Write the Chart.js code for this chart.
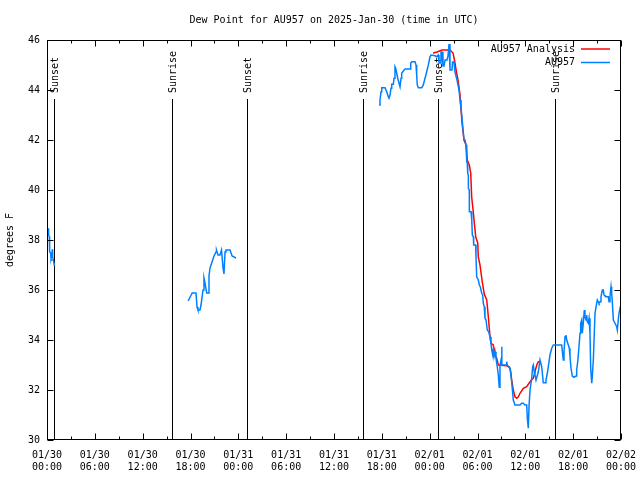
<!DOCTYPE html>
<html>
<head>
<meta charset="utf-8">
<script src="https://cdn.jsdelivr.net/npm/chart.js@4/dist/chart.umd.min.js"></script>
<style>
  html, body { margin: 0; padding: 0; background: #fff; }
  canvas { display: block; }
</style>
</head>
<body>
<canvas id="c" width="640" height="480"></canvas>
<script>
// ---------------- DATA ----------------
const chartTitle = "Dew Point for AU957 on 2025-Jan-30 (time in UTC)";
const yAxisTitle = "degrees F";
const seriesNames = ["AU957 Analysis", "AU957"];

// x values are hours since 01/30 00:00 UTC
const xTickLabels = [
  ["01/30", "00:00"], ["01/30", "06:00"], ["01/30", "12:00"], ["01/30", "18:00"],
  ["01/31", "00:00"], ["01/31", "06:00"], ["01/31", "12:00"], ["01/31", "18:00"],
  ["02/01", "00:00"], ["02/01", "06:00"], ["02/01", "12:00"], ["02/01", "18:00"],
  ["02/02", "00:00"]
];
const yTickValues = [30, 32, 34, 36, 38, 40, 42, 44, 46];

const sunHours = [0.88, 15.68, 25.09, 39.64, 49.05, 63.72];
const sunLabels = ["Sunset", "Sunrise", "Sunset", "Sunrise", "Sunset", "Sunrise"];

// Observations (AU957), three separate stretches
const obs1Hours  = [0.16, 0.20, 0.29, 0.33, 0.46, 0.50, 0.59, 0.66, 0.71, 0.88, 0.92];
const obs1Values = [38.47, 38.2, 38.13, 37.53, 37.47, 37.27, 37.4, 37.63, 37.33, 37.07, 36.96];

const obs2Hours  = [17.71, 18.21, 18.69, 18.82, 18.94, 19.19, 19.32, 19.57, 19.69, 19.82, 20.03, 20.2,
                    20.32, 20.45, 20.7, 20.95, 21.2, 21.26, 21.45, 21.7, 21.89, 22.08, 22.2, 22.33,
                    22.45, 22.96, 23.21, 23.71];
const obs2Values = [35.56, 35.88, 35.88, 35.32, 35.2, 35.2, 35.4, 36.0, 36.48, 36.28, 35.88, 35.88,
                    36.56, 36.88, 37.12, 37.36, 37.52, 37.6, 37.4, 37.4, 37.6, 36.88, 36.64, 37.52,
                    37.6, 37.6, 37.36, 37.28];

const obs3Hours  = [41.65, 41.77, 41.9, 41.99, 42.4, 42.61, 42.81, 42.9, 43.03, 43.15, 43.24, 43.44,
                    43.53, 43.65, 43.74, 43.87, 43.99, 44.16, 44.28, 44.41, 44.49, 44.7, 44.91, 45.32,
                    45.54, 45.62, 45.75, 46.16, 46.29, 46.37, 46.45, 46.58, 47.0, 47.2, 47.42, 47.63,
                    47.83, 48.04, 48.17, 48.67, 48.88, 49.08, 49.17, 49.3, 49.42, 49.55, 49.67, 49.8,
                    49.93, 50.18, 50.3, 50.43, 50.55, 50.8, 50.87, 51.05, 51.18, 51.43, 51.68, 51.81,
                    51.93, 52.06, 52.19, 52.31, 52.44, 52.56, 52.65, 52.72, 52.77, 52.85, 52.86, 52.97,
                    52.98, 53.19, 53.28, 53.35, 53.48, 53.52, 53.77, 53.81, 53.9, 54.1, 54.23, 54.35,
                    54.53, 54.65, 54.73, 54.85, 54.94, 55.07, 55.23, 55.40, 55.57, 55.69, 55.78, 55.91,
                    55.98, 56.07, 56.20, 56.32, 56.41, 56.48, 56.61, 56.73, 56.82, 56.95, 57.04, 57.07,
                    57.58, 57.66, 57.74, 57.86, 58.08, 58.29, 58.49, 58.70, 59.33, 59.54, 59.75, 59.96,
                    60.17, 60.25, 60.37, 60.46, 60.59, 60.80, 60.92, 61.00, 61.12, 61.21, 61.34, 61.43,
                    61.63, 61.84, 62.05, 62.18, 62.25, 62.47, 62.59, 62.76, 62.88, 63.09, 63.31, 63.51,
                    63.72, 64.56, 64.69, 64.76, 64.85, 64.98, 65.10, 65.19, 65.39, 65.52, 65.60, 65.73,
                    65.89, 66.11, 66.36, 66.44, 66.57, 66.73, 66.86, 66.94, 67.07, 67.15, 67.27, 67.40,
                    67.48, 67.61, 67.70, 67.77, 67.90, 67.99, 68.11, 68.20, 68.33, 68.40, 68.53, 68.65,
                    68.74, 68.95, 69.03, 69.15, 69.24, 69.37, 69.49, 69.66, 69.78, 69.87, 69.99, 70.21,
                    70.41, 70.50, 70.62, 70.75, 70.83, 70.91, 71.04, 71.25, 71.46, 71.54, 71.66, 71.75,
                    71.88, 72.0];
const obs3Values = [43.4, 43.6, 43.93, 44.09, 44.09, 43.93, 43.73, 43.67, 43.8, 44.07, 44.23, 44.23,
                    44.47, 44.93, 44.87, 44.67, 44.47, 44.27, 44.13, 44.47, 44.67, 44.76, 44.84, 44.84,
                    44.84, 45.07, 45.13, 45.13, 45.0, 44.6, 44.2, 44.09, 44.09, 44.2, 44.47, 44.73,
                    45.0, 45.33, 45.4, 45.37, 45.33, 45.4, 45.08, 45.08, 45.52, 45.52, 44.96, 44.96,
                    45.2, 45.2, 45.36, 45.84, 44.8, 44.8, 45.12, 45.12, 44.72, 44.4, 44.0, 43.6,
                    43.28, 42.88, 42.4, 42.0, 42.0, 41.8, 41.13, 41.07, 40.67, 40.6, 40.07, 40.0,
                    39.13, 39.13, 38.8, 38.2, 38.13, 37.8, 37.8, 37.33, 36.53, 36.4, 36.2, 36.13,
                    35.87, 35.8, 35.47, 35.33, 34.87, 34.8, 34.4, 34.33, 34.13, 33.87, 33.6, 33.4,
                    33.6, 33.33, 33.53, 33.27, 33.07, 32.93, 32.6, 32.11, 33.0, 33.2, 33.73, 33.0,
                    33.0, 33.13, 33.0, 32.93, 32.87, 32.33, 31.6, 31.4, 31.4, 31.47, 31.47, 31.4,
                    31.4, 30.87, 30.47, 31.33, 32.0, 32.47, 32.93, 33.0, 32.73, 32.6, 32.4, 32.4,
                    32.73, 33.2, 32.93, 32.53, 32.29, 32.29, 32.4, 32.67, 32.93, 33.4, 33.67, 33.8,
                    33.8, 33.8, 33.4, 33.2, 33.53, 34.13, 34.2, 34.0, 33.8, 33.67, 33.33, 32.87,
                    32.56, 32.51, 32.56, 32.8, 33.13, 33.73, 34.27, 34.67, 34.8, 34.27, 34.67, 35.2,
                    34.93, 34.8, 35.0, 34.73, 34.67, 34.87, 34.27, 32.87, 32.27, 32.53, 33.2, 34.27,
                    35.07, 35.47, 35.6, 35.53, 35.47, 35.53, 35.73, 36.0, 36.0, 35.8, 35.76, 35.73,
                    35.73, 35.53, 35.73, 36.13, 35.87, 35.53, 34.8, 34.67, 34.53, 34.4, 34.8, 35.07,
                    35.27, 35.2];

// Analysis (AU957 Analysis)
const ana1Hours  = [0.50, 0.70];
const ana1Values = [37.2, 37.2];
const ana2Hours  = [48.42, 48.92, 49.55, 50.55, 50.93, 51.18, 51.31, 51.56, 51.81, 52.06, 52.19, 52.31,
                    52.56, 52.72, 52.97, 53.15, 53.27, 53.47, 53.6, 53.78, 54.03, 54.1, 54.31, 54.6,
                    54.85, 55.16, 55.36, 55.57, 55.7, 55.98, 56.11, 56.2, 56.41, 56.61, 57.66, 57.99,
                    58.17, 58.29, 58.49, 58.7, 58.92, 59.12, 59.33, 59.75, 60.17, 60.59, 61.0, 61.43,
                    61.63, 61.84];
const ana2Values = [45.48, 45.52, 45.6, 45.6, 45.48, 45.08, 44.8, 44.4, 43.8, 42.68, 42.32, 42.0,
                    41.8, 41.2, 41.0, 40.68, 39.72, 39.12, 38.68, 38.12, 37.88, 37.32, 37.0, 36.32,
                    35.84, 35.6, 34.92, 34.13, 33.87, 33.8, 33.6, 33.4, 33.27, 33.0, 32.97, 32.93,
                    32.73, 32.4, 32.0, 31.73, 31.67, 31.73, 31.87, 32.07, 32.13, 32.33, 32.47, 33.0,
                    33.13, 33.13];

// ---------------- STYLE ----------------
const FONT = '"DejaVu Sans Mono", "Liberation Mono", monospace';
const OBS_COLOR = 'rgb(0,128,255)';
const ANA_COLOR = 'rgb(255,0,0)';

function toPoints(hours, values) {
  return hours.map((h, i) => ({ x: h, y: values[i] }));
}

function lineSet(label, hours, values, color) {
  return {
    label: label,
    data: toPoints(hours, values),
    borderColor: color,
    backgroundColor: color,
    borderWidth: 1.5,
    pointRadius: 0,
    tension: 0,
    fill: false
  };
}

const datasets = [
  lineSet(seriesNames[1], obs1Hours, obs1Values, OBS_COLOR),
  lineSet(seriesNames[1], obs2Hours, obs2Values, OBS_COLOR),
  lineSet(seriesNames[1], obs3Hours, obs3Values, OBS_COLOR),
  lineSet(seriesNames[0], ana1Hours, ana1Values, ANA_COLOR),
  lineSet(seriesNames[0], ana2Hours, ana2Values, ANA_COLOR)
];

const decor = {
  id: 'decor',
  beforeDatasetsDraw(chart) {
    const { ctx, chartArea: a, scales: { x } } = chart;
    ctx.save();
    ctx.strokeStyle = '#000';
    ctx.fillStyle = '#000';
    ctx.lineWidth = 1;
    ctx.font = '10px ' + FONT;
    sunHours.forEach((h, i) => {
      const px = Math.round(x.getPixelForValue(h)) + 0.5;
      ctx.beginPath();
      ctx.moveTo(px, 99);
      ctx.lineTo(px, a.bottom);
      ctx.stroke();
      ctx.save();
      ctx.translate(px + 0.5, 93);
      ctx.rotate(-Math.PI / 2);
      ctx.textAlign = 'left';
      ctx.textBaseline = 'middle';
      ctx.fillText(sunLabels[i], 0, 0);
      ctx.restore();
    });
    ctx.restore();
  },
  afterDraw(chart) {
    const { ctx, chartArea: a, scales: { x, y } } = chart;
    ctx.save();
    ctx.strokeStyle = '#000';
    ctx.fillStyle = '#000';
    ctx.lineWidth = 1;
    const L = Math.round(a.left) + 0.5, R = Math.round(a.right) - 0.5;
    const T = Math.round(a.top) + 0.5, B = Math.round(a.bottom) - 0.5;
    ctx.strokeRect(L, T, R - L, B - T);
    // x ticks (major every 6 h, minor every 3 h), bottom and top
    ctx.beginPath();
    for (let h = 0; h <= 72; h += 3) {
      const px = Math.round(x.getPixelForValue(h)) + 0.5;
      const len = (h % 6 === 0) ? 6 : 3;
      ctx.moveTo(px, B); ctx.lineTo(px, B - len);
      ctx.moveTo(px, T); ctx.lineTo(px, T + len);
    }
    // y ticks, left and right
    yTickValues.forEach(v => {
      const py = Math.round(y.getPixelForValue(v)) + 0.5;
      ctx.moveTo(L, py); ctx.lineTo(L + 6, py);
      ctx.moveTo(R, py); ctx.lineTo(R - 6, py);
    });
    ctx.stroke();

    ctx.font = '10px ' + FONT;
    // title
    ctx.textAlign = 'center';
    ctx.textBaseline = 'middle';
    ctx.fillText(chartTitle, (a.left + a.right) / 2, 20);
    // y axis title
    ctx.save();
    ctx.translate(10, (a.top + a.bottom) / 2);
    ctx.rotate(-Math.PI / 2);
    ctx.fillText(yAxisTitle, 0, 0);
    ctx.restore();
    // legend
    const legendColors = [ANA_COLOR, OBS_COLOR];
    ctx.textAlign = 'right';
    seriesNames.forEach((name, i) => {
      const ly = 49 + i * 13.5;
      ctx.fillStyle = '#000';
      ctx.fillText(name, 575, ly);
      ctx.strokeStyle = legendColors[i];
      ctx.lineWidth = 1.5;
      ctx.beginPath();
      ctx.moveTo(581, ly);
      ctx.lineTo(610, ly);
      ctx.stroke();
    });
    ctx.restore();
  }
};

new Chart(document.getElementById('c'), {
  type: 'line',
  data: { datasets: datasets },
  options: {
    responsive: false,
    animation: false,
    devicePixelRatio: 1,
    layout: { padding: { left: 0, right: 19, top: 40, bottom: 0 } },
    plugins: { legend: { display: false }, tooltip: { enabled: false }, title: { display: false } },
    scales: {
      x: {
        type: 'linear',
        min: 0,
        max: 72,
        grid: { display: false, drawTicks: false },
        border: { display: false },
        afterFit: s => { s.height = 40; s.paddingLeft = 0; s.paddingRight = 0; },
        afterBuildTicks: s => { s.ticks = xTickLabels.map((_, i) => ({ value: i * 6 })); },
        ticks: {
          autoSkip: false,
          maxRotation: 0,
          minRotation: 0,
          padding: 9,
          color: '#000',
          font: { family: FONT, size: 10, lineHeight: 1.2 },
          callback: (v, i) => xTickLabels[i]
        }
      },
      y: {
        type: 'linear',
        min: 30,
        max: 46,
        grid: { display: false, drawTicks: false },
        border: { display: false },
        afterFit: s => { s.width = 47; s.paddingTop = 0; s.paddingBottom = 0; },
        afterBuildTicks: s => { s.ticks = yTickValues.map(v => ({ value: v })); },
        ticks: {
          padding: 7,
          color: '#000',
          font: { family: FONT, size: 10 },
          callback: v => String(v)
        }
      }
    }
  },
  plugins: [decor]
});
</script>
</body>
</html>
